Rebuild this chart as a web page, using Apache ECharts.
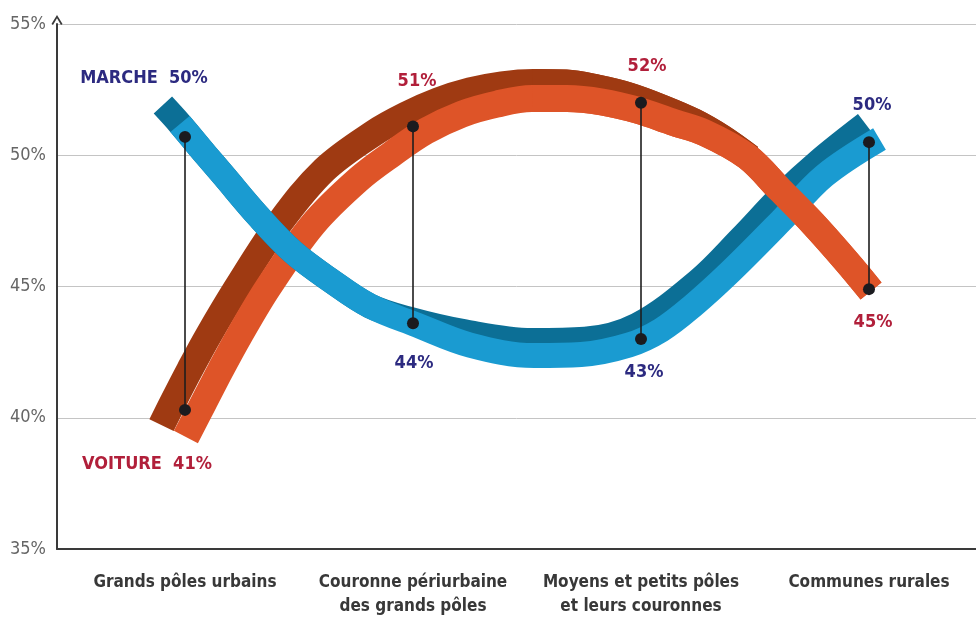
<!DOCTYPE html>
<html>
<head>
<meta charset="utf-8">
<script src="https://cdn.jsdelivr.net/npm/echarts@6/dist/echarts.min.js"></script>
<style>
html,body{margin:0;padding:0;background:#fff;}
#chart{width:976px;height:622px;}
</style>
</head>
<body>
<div id="chart"></div>
<script>
// ---- data ----
const categories = ['Grands pôles urbains', 'Couronne périurbaine\ndes grands pôles', 'Moyens et petits pôles\net leurs couronnes', 'Communes rurales'];
const yTicks = [35, 40, 45, 50, 55];
const marcheDots = [50.7, 43.6, 43.0, 50.5];
const voitureDots = [40.3, 51.1, 52.0, 44.9];
const marcheLabels = [50, 44, 43, 50];
const voitureLabels = [41, 51, 52, 45];

// ribbon paths [category position, %] read along the bands
const voitureDarkPath = [[-0.103,39.72],[-0.055,40.56],[0.020,41.82],[0.099,43.08],[0.230,44.98],[0.411,47.38],[0.610,49.44],[0.829,50.85],[0.969,51.53],[1.110,52.07],[1.25,52.45],[1.390,52.68],[1.526,52.77],[1.671,52.75],[1.807,52.56],[1.947,52.26],[2.092,51.80],[2.233,51.27],[2.355,50.66],[2.478,49.90]];
const voitureLightPath = [[0.004,39.27],[0.081,40.56],[0.156,41.82],[0.235,43.08],[0.366,44.98],[0.563,47.38],[0.761,49.08],[0.908,50.05],[1.057,50.92],[1.215,51.57],[1.368,51.95],[1.522,52.16],[1.675,52.16],[1.829,52.03],[1.983,51.72],[2.136,51.27],[2.281,50.85],[2.465,49.95],[2.610,48.68],[2.754,47.40],[2.904,45.93],[3.009,44.83]];
const marcheDarkPath = [[-0.097,51.91],[-0.022,51.19],[0.092,50.01],[0.167,49.25],[0.320,47.69],[0.474,46.31],[0.636,45.25],[0.811,44.26],[0.983,43.76],[1.228,43.27],[1.522,42.94],[1.754,42.99],[1.983,43.53],[2.25,45.21],[2.439,46.85],[2.614,48.45],[2.781,49.78],[2.985,51.19]];
const marcheLightPath = [[-0.022,51.19],[0.092,50.01],[0.167,49.25],[0.320,47.69],[0.474,46.31],[0.636,45.25],[0.811,44.26],[1.018,43.53],[1.25,42.77],[1.531,42.37],[1.737,42.41],[1.947,42.77],[2.088,43.34],[2.224,44.24],[2.395,45.59],[2.614,47.50],[2.803,49.21],[3.046,50.62]];

const FONT = 'DejaVu Sans Condensed, Liberation Sans Narrow, sans-serif';
const C = {
  vDark: '#9f3a12', vLight: '#de5428',
  mDark: '#0c6f96', mLight: '#1a9bd1',
  mText: '#2c2a80', vText: '#b11f3a'
};

function ribbon(data, color, width, z) {
  return {
    type: 'line', data: data, smooth: 0.35, showSymbol: false, silent: true,
    z: z, animation: false, clip: false,
    lineStyle: { color: color, width: width, cap: 'butt', join: 'round', opacity: 1 }
  };
}

const chart = echarts.init(document.getElementById('chart'), null, { renderer: 'canvas' });

const mOffsets = [[-41, -59], [1, 40], [3, 33], [3, -37]];
const vOffsets = [[-38, 54], [4, -45], [6, -36], [4, 33]];

const marchePts = marcheDots.map((v, i) => ({
  value: [i, v],
  label: { offset: mOffsets[i], formatter: (i === 0 ? 'MARCHE  ' : '') + marcheLabels[i] + '%', color: C.mText }
}));
const voiturePts = voitureDots.map((v, i) => ({
  value: [i, v],
  label: { offset: vOffsets[i], formatter: (i === 0 ? 'VOITURE  ' : '') + voitureLabels[i] + '%', color: C.vText }
}));

function dotSeries(data) {
  return {
    type: 'scatter', z: 8, silent: true, symbolSize: 12,
    itemStyle: { color: '#1b1b1f', opacity: 1 },
    data: data,
    label: { show: true, position: 'inside', fontFamily: FONT, fontWeight: 'bold', fontSize: 18, opacity: 1 },
    emphasis: { disabled: true }
  };
}

const option = {
  backgroundColor: '#fff',
  animation: false,
  grid: { left: 57, right: 0, top: 24, bottom: 73 },
  xAxis: {
    type: 'value', min: -0.5614, max: 3.4693,
    axisLine: { show: true, onZero: false, lineStyle: { color: '#3a3a3a', width: 2 } },
    axisTick: { show: false },
    splitLine: { show: false },
    axisLabel: {
      customValues: [0, 1, 2, 3],
      formatter: v => categories[Math.round(v)] || '',
      color: '#383838', fontFamily: FONT, fontWeight: 'bold', fontSize: 17,
      lineHeight: 24, margin: 22, align: 'center'
    }
  },
  yAxis: {
    type: 'value', min: yTicks[0], max: yTicks[yTicks.length - 1], interval: 5,
    axisLine: {
      show: true, onZero: false, lineStyle: { color: '#3a3a3a', width: 2 },
      symbol: ['none', 'path://M0,8 L5,0 L10,8 L8.6,9 L5,3 L1.4,9 Z'],
      symbolSize: [12, 10], symbolOffset: [0, 4]
    },
    axisTick: { show: false },
    splitLine: { show: true, lineStyle: { color: '#c4c4c4', width: 1 } },
    axisLabel: { formatter: '{value}%', color: '#666', fontFamily: FONT, fontSize: 18, margin: 11 }
  },
  series: [
    ribbon(voitureDarkPath, C.vDark, 27, 1),
    ribbon(voitureLightPath, C.vLight, 27, 2),
    ribbon(marcheDarkPath, C.mDark, 25, 3),
    ribbon(marcheLightPath, C.mLight, 25, 4),
    ribbon(voitureDarkPath.filter(p => p[0] >= 1.5), C.vDark, 27, 5),
    ribbon(voitureLightPath.filter(p => p[0] >= 1.5), C.vLight, 27, 6),
    {
      type: 'custom', z: 7, silent: true,
      data: categories.map((c, i) => [i, marcheDots[i], voitureDots[i]]),
      encode: { x: 0, y: [1, 2] },
      renderItem: (params, api) => {
        const x = api.value(0);
        const a = api.coord([x, api.value(1)]);
        const b = api.coord([x, api.value(2)]);
        return { type: 'line', shape: { x1: a[0], y1: a[1], x2: b[0], y2: b[1] }, style: { stroke: '#1e1e1e', lineWidth: 1.6 } };
      }
    },
    dotSeries(marchePts),
    dotSeries(voiturePts)
  ]
};
chart.setOption(option);
</script>
</body>
</html>
